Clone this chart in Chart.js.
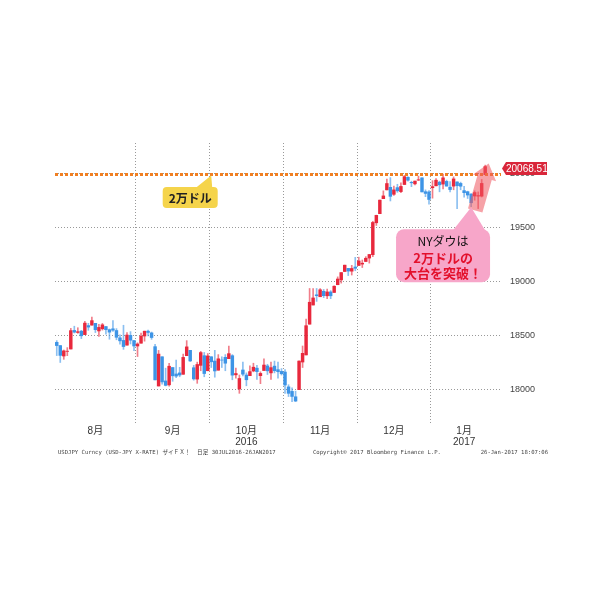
<!DOCTYPE html>
<html>
<head>
<meta charset="utf-8">
<script src="https://cdn.jsdelivr.net/npm/chart.js@4.4.0/dist/chart.umd.min.js"></script>
<style>
  body { margin: 0; background: #fff; }
</style>
</head>
<body>
<canvas id="c" width="600" height="600"></canvas>
<script>
// trading days, 1 Aug 2016 - 31 Jan 2017
const days = [
  '8/1','8/2','8/3','8/4','8/5','8/8','8/9','8/10','8/11','8/12','8/15','8/16','8/17','8/18','8/19','8/22','8/23','8/24','8/25','8/26','8/29','8/30','8/31',
  '9/1','9/2','9/6','9/7','9/8','9/9','9/12','9/13','9/14','9/15','9/16','9/19','9/20','9/21','9/22','9/23','9/26','9/27','9/28','9/29','9/30',
  '10/3','10/4','10/5','10/6','10/7','10/10','10/11','10/12','10/13','10/14','10/17','10/18','10/19','10/20','10/21','10/24','10/25','10/26','10/27','10/28','10/31',
  '11/1','11/2','11/3','11/4','11/7','11/8','11/9','11/10','11/11','11/14','11/15','11/16','11/17','11/18','11/21','11/22','11/23','11/25','11/28','11/29','11/30',
  '12/1','12/2','12/5','12/6','12/7','12/8','12/9','12/12','12/13','12/14','12/15','12/16','12/19','12/20','12/21','12/22','12/23','12/27','12/28','12/29','12/30',
  '1/3','1/4','1/5','1/6','1/9','1/10','1/11','1/12','1/13','1/17','1/18','1/19','1/20','1/23','1/24','1/25','1/26','1/27','1/30','1/31'
];

const opens = [
  18434,18404,18307,18350,18372,18545,18526,18538,18506,18590,18594,18611,18540,18560,18581,18552,18560,18544,18476,18452,18408,18499,18451,
  18400,18426,18493,18538,18522,18394,18028,18300,18075,18039,18200,18140,18150,18137,18310,18360,18198,18092,18220,18310,18170,
  18300,18260,18175,18270,18295,18282,18310,18132,18000,18177,18130,18124,18168,18194,18124,18172,18215,18150,18213,18180,18164,
  18158,18020,17978,17928,17994,18251,18317,18603,18781,18876,18858,18909,18867,18903,18898,18970,19015,19093,19122,19096,19135,
  19149,19162,19186,19218,19249,19546,19631,19770,19852,19876,19811,19873,19836,19902,19969,19922,19908,19943,19964,19835,19833,
  19872,19890,19924,19906,19931,19877,19887,19926,19912,19845,19835,19813,19795,19794,19794,19994,null,null,null,null
];
const highs = [
  18450,18404,18363,18385,18564,18584,18570,18546,18630,18611,18668,18611,18601,18610,18581,18558,18637,18562,18504,18593,18525,18534,18451,
  18430,18520,18538,18548,18530,18416,18359,18300,18194,18240,18200,18268,18202,18325,18450,18360,18220,18250,18350,18340,18330,
  18300,18360,18320,18300,18320,18400,18320,18195,18130,18250,18150,18216,18240,18220,18160,18280,18230,18250,18260,18250,18190,
  18180,18040,18010,17980,18263,18400,18650,18935,18934,18935,18935,18926,18930,18915,18960,19043,19083,19152,19122,19150,19225,
  19226,19200,19231,19252,19560,19617,19757,19843,19953,19966,19888,19904,19917,19987,19975,19933,19934,19980,19964,19852,19846,
  19938,19956,19933,19999,19943,19930,19973,19926,19924,19885,19840,19817,19843,19833,19949,20082,null,null,null,null
];
const lows = [
  18311,18247,18276,18310,18372,18521,18518,18469,18506,18546,18594,18525,18489,18548,18510,18463,18536,18458,18418,18369,18408,18419,18356,
  18302,18426,18445,18495,18462,18085,18028,18045,18029,18026,18072,18106,18114,18137,18310,18256,18082,18053,18170,18114,18170,
  18200,18110,18175,18200,18170,18282,18086,18100,17960,18122,18030,18124,18160,18090,18050,18172,18135,18090,18150,18100,18130,
  17960,17930,17883,17883,17994,18200,18317,18603,18781,18815,18858,18850,18840,18840,18898,18970,18985,19093,19055,19060,19100,
  19149,19130,19186,19171,19231,19521,19631,19770,19852,19749,19800,19829,19827,19902,19934,19882,19899,19939,19833,19789,19719,
  19775,19890,19834,19860,19887,19832,19853,19678,19853,19784,19772,19697,19756,19678,19786,19994,null,null,null,null
];
const closes = [
  18404,18313,18355,18352,18543,18529,18533,18495,18613,18576,18636,18552,18573,18597,18552,18529,18547,18481,18448,18395,18502,18454,18400,
  18419,18492,18538,18526,18479,18085,18325,18066,18034,18212,18123,18120,18130,18294,18392,18261,18094,18228,18339,18144,18308,
  18253,18168,18281,18269,18240,18329,18129,18144,18098,18138,18086,18162,18203,18162,18145,18223,18169,18199,18170,18161,18142,
  18037,17960,17931,17888,18260,18332,18589,18807,18847,18868,18923,18868,18903,18867,18956,19023,19083,19152,19097,19121,19123,
  19191,19170,19216,19251,19549,19615,19757,19796,19911,19792,19852,19843,19884,19975,19942,19918,19934,19946,19833,19819,19763,
  19882,19942,19899,19964,19887,19855,19954,19891,19886,19826,19804,19732,19827,19799,19912,20068.51,null,null,null,null
];

const yTicks = [18000, 18500, 19000, 19500, 20000];
const monthNames = { '8': '8月', '9': '9月', '10': ['10月', '2016'], '11': '11月', '12': '12月', '1': ['1月', '2017'] };
const level = 20000;
const lastValue = 20068.51;

const UP = '#e8283c', DOWN = '#3d94e6';
const FONT = '"Liberation Sans", "Noto Sans CJK JP", sans-serif';
const JP = '"Noto Sans CJK JP", sans-serif';

const monthOf = i => days[i].split('/')[0];
const isMonthStart = i => i > 0 && i < days.length && monthOf(i) !== monthOf(i - 1);

// index in the middle of each month carries its label
const labelAt = {};
(function () {
  let start = 0;
  for (let i = 1; i <= days.length; i++) {
    if (i === days.length || monthOf(i) !== monthOf(start)) {
      labelAt[Math.floor((start + i - 1) / 2)] = monthNames[monthOf(start)];
      start = i;
    }
  }
})();

const isUp = i => closes[i] >= opens[i];
const colorFor = (i, a) => {
  if (opens[i] == null) return 'transparent';
  return isUp(i) ? (a ? 'rgba(232,40,60,0.6)' : UP) : (a ? 'rgba(61,148,230,0.6)' : DOWN);
};

function roundRect(ctx, x, y, w, h, r) {
  ctx.beginPath();
  ctx.moveTo(x + r, y);
  ctx.arcTo(x + w, y, x + w, y + h, r);
  ctx.arcTo(x + w, y + h, x, y + h, r);
  ctx.arcTo(x, y + h, x, y, r);
  ctx.arcTo(x, y, x + w, y, r);
  ctx.closePath();
}

const annotate = {
  id: 'annotate',
  afterDatasetsDraw(chart) {
    const { ctx, chartArea: a, scales: { x, y } } = chart;
    const y0 = Math.round(y.getPixelForValue(level)) + 0.5;
    ctx.save();

    // 20000 line
    ctx.strokeStyle = '#f07f22';
    ctx.lineWidth = 3;
    ctx.setLineDash([3, 2]);
    ctx.beginPath();
    ctx.moveTo(a.left, y0);
    ctx.lineTo(a.right, y0);
    ctx.stroke();
    ctx.setLineDash([]);

    // breakout arrow
    const last = closes.length - 5;
    const xl = x.getPixelForValue(last);
    const tail = { x: xl - 10, y: y0 + 36 };
    const tip = { x: xl + 3.5, y: y0 - 11 };
    const dx = tip.x - tail.x, dy = tip.y - tail.y;
    const len = Math.hypot(dx, dy);
    const ux = dx / len, uy = dy / len, nx = -uy, ny = ux;
    const sw = 7.5, hw = 12, hl = 15;
    const bx = tip.x - ux * hl, by = tip.y - uy * hl;
    ctx.fillStyle = 'rgba(238,85,95,0.55)';
    ctx.beginPath();
    ctx.moveTo(tail.x + nx * sw, tail.y + ny * sw);
    ctx.lineTo(bx + nx * sw, by + ny * sw);
    ctx.lineTo(bx + nx * hw, by + ny * hw);
    ctx.lineTo(tip.x, tip.y);
    ctx.lineTo(bx - nx * hw, by - ny * hw);
    ctx.lineTo(bx - nx * sw, by - ny * sw);
    ctx.lineTo(tail.x - nx * sw, tail.y - ny * sw);
    ctx.closePath();
    ctx.fill();

    // yellow callout
    const ycx = x.getPixelForValue(38), ycy = y.getPixelForValue(19781);
    ctx.fillStyle = '#f5d44b';
    roundRect(ctx, ycx - 27.5, ycy - 10.5, 55, 21, 4);
    ctx.fill();
    ctx.beginPath();
    ctx.moveTo(ycx + 6, ycy - 10);
    ctx.lineTo(ycx + 21, y0 + 1);
    ctx.lineTo(ycx + 22, ycy - 10);
    ctx.closePath();
    ctx.fill();
    ctx.fillStyle = '#222';
    ctx.font = 'bold 12px ' + JP;
    ctx.textAlign = 'center';
    ctx.textBaseline = 'middle';
    ctx.fillText('2万ドル', ycx, ycy + 0.5);

    // pink callout
    const pcx = x.getPixelForValue(110), pcy = y.getPixelForValue(19240);
    const pw = 94, ph = 53;
    ctx.fillStyle = '#f7a6c9';
    roundRect(ctx, pcx - pw / 2, pcy - ph / 2, pw, ph, 8);
    ctx.fill();
    ctx.beginPath();
    ctx.moveTo(pcx + 10, pcy - ph / 2 + 1);
    ctx.lineTo(x.getPixelForValue(118), y.getPixelForValue(19690));
    ctx.lineTo(pcx + 42, pcy - ph / 2 + 1);
    ctx.closePath();
    ctx.fill();
    ctx.fillStyle = '#111';
    ctx.font = '12px ' + JP;
    ctx.fillText('NYダウは', pcx, pcy - 14);
    ctx.fillStyle = '#e3102c';
    ctx.font = 'bold 13px ' + JP;
    ctx.fillText('2万ドルの', pcx, pcy + 2);
    ctx.fillText('大台を突破！', pcx, pcy + 17);

    ctx.restore();
  },
  afterDraw(chart) {
    const { ctx, chartArea: a, scales: { y } } = chart;
    ctx.save();

    // last value tag
    const ty = y.getPixelForValue(lastValue) + 2;
    const tx = a.right + 1;
    ctx.fillStyle = '#d9263a';
    ctx.beginPath();
    ctx.moveTo(tx, ty);
    ctx.lineTo(tx + 4, ty - 6.5);
    ctx.lineTo(tx + 45, ty - 6.5);
    ctx.lineTo(tx + 45, ty + 6.5);
    ctx.lineTo(tx + 4, ty + 6.5);
    ctx.closePath();
    ctx.fill();
    ctx.fillStyle = '#fff';
    ctx.font = '10px ' + FONT;
    ctx.textAlign = 'left';
    ctx.textBaseline = 'middle';
    ctx.fillText(lastValue.toFixed(2), tx + 4, ty + 0.5);

    // source line
    ctx.fillStyle = '#444';
    ctx.font = '5.6px "DejaVu Sans Mono", ' + JP;
    ctx.fillText('USDJPY Curncy (USD-JPY X-RATE) ザイＦＸ！  日足 30JUL2016-26JAN2017', 58, 453);
    ctx.fillText('Copyright© 2017 Bloomberg Finance L.P.', 313, 453);
    ctx.textAlign = 'right';
    ctx.fillText('26-Jan-2017 18:07:06', 548, 453);
    ctx.restore();
  }
};

new Chart(document.getElementById('c'), {
  type: 'bar',
  data: {
    labels: days,
    datasets: [
      {
        label: 'wick',
        data: lows.map((l, i) => l == null ? null : [l, highs[i]]),
        backgroundColor: days.map((d, i) => colorFor(i, true)),
        barThickness: 1,
        grouped: false,
        order: 2
      },
      {
        label: 'body',
        data: opens.map((o, i) => o == null ? null : [o, closes[i]]),
        backgroundColor: days.map((d, i) => colorFor(i, false)),
        barThickness: 2.8,
        grouped: false,
        order: 1
      }
    ]
  },
  options: {
    responsive: false,
    animation: false,
    layout: { padding: { left: 55, right: 39, top: 143, bottom: 137 } },
    plugins: { legend: { display: false }, tooltip: { enabled: false } },
    scales: {
      x: {
        offset: true,
        grid: {
          offset: true,
          drawTicks: false,
          lineWidth: 1,
          color: c => (c.index === days.length || isMonthStart(c.index)) ? '#999' : 'transparent'
        },
        border: { display: false, dash: [1, 2] },
        ticks: {
          autoSkip: false,
          maxRotation: 0,
          minRotation: 0,
          padding: 3,
          color: '#333',
          font: { size: 10, family: FONT, lineHeight: 1.05 },
          callback: (v, i) => labelAt[i] || ''
        },
        afterFit: s => { s.height = 40; }
      },
      y: {
        position: 'right',
        min: 17684,
        max: 20288,
        afterBuildTicks: s => { s.ticks = yTicks.map(v => ({ value: v })); },
        grid: { drawTicks: false, color: '#999', lineWidth: 1 },
        border: { display: false, dash: [1, 2] },
        ticks: {
          padding: 9,
          color: '#444',
          font: { size: 9, family: FONT },
          callback: v => String(v)
        },
        afterFit: s => { s.width = 60; }
      }
    }
  },
  plugins: [annotate]
});
</script>
</body>
</html>
